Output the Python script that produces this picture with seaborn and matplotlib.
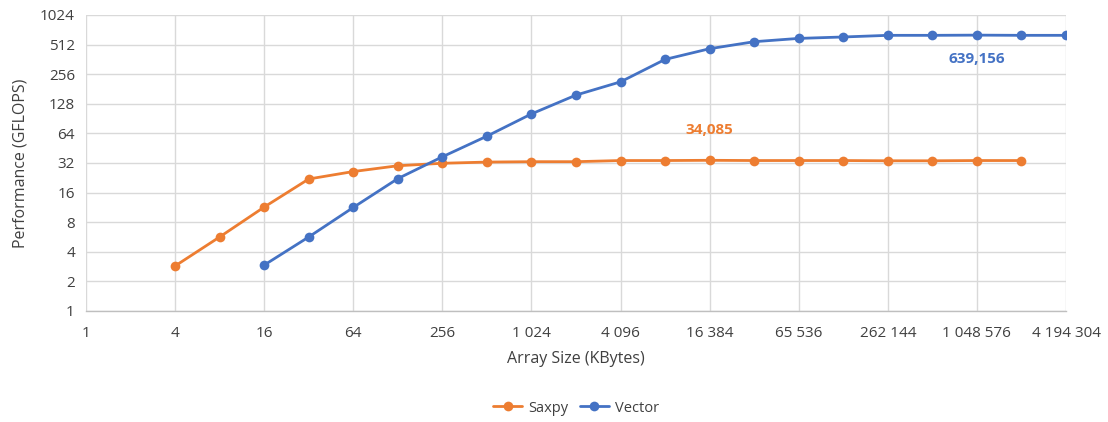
import matplotlib
matplotlib.use("Agg")
import matplotlib.pyplot as plt
import seaborn as sns
import pandas as pd
import numpy as np
from matplotlib.ticker import FixedLocator, FixedFormatter, NullLocator

saxpy_x = [4, 8, 16, 32, 64, 128, 256, 512, 1024, 2048, 4096, 8192, 16384, 32768,
           65536, 131072, 262144, 524288, 1048576, 2097152]
saxpy_y = [2.87, 5.66, 11.4, 22.0, 26.2, 30.0, 31.8, 32.7, 33.0, 33.0, 33.9, 33.9,
           34.085, 33.9, 33.9, 33.9, 33.7, 33.7, 33.9, 33.9]

vector_x = [16, 32, 64, 128, 256, 512, 1024, 2048, 4096, 8192, 16384, 32768,
            65536, 131072, 262144, 524288, 1048576, 2097152, 4194304]
vector_y = [2.93, 5.66, 11.3, 22.2, 37.0, 60.0, 101.0, 157.0, 214.0, 362.0, 465.0,
            548.0, 592.0, 612.0, 636.0, 636.0, 639.156, 636.0, 636.0]

x_ticks = [1, 4, 16, 64, 256, 1024, 4096, 16384, 65536, 262144, 1048576, 4194304]
x_tick_labels = ["1", "4", "16", "64", "256", "1 024", "4 096", "16 384", "65 536",
                 "262 144", "1 048 576", "4 194 304"]
y_ticks = [1, 2, 4, 8, 16, 32, 64, 128, 256, 512, 1024]
y_tick_labels = [str(v) for v in y_ticks]

series_names = ["Saxpy", "Vector"]
colors = ["#ED7D31", "#4472C4"]

df = pd.concat([
    pd.DataFrame({"size": saxpy_x, "perf": saxpy_y, "series": "Saxpy"}),
    pd.DataFrame({"size": vector_x, "perf": vector_y, "series": "Vector"}),
])

sns.set_theme(style="white")
plt.rcParams["font.family"] = ["Open Sans", "DejaVu Sans"]

fig = plt.figure(figsize=(11.08, 4.22), dpi=100)
ax = fig.add_axes([86 / 1108, 1 - 311 / 422, (1066 - 86) / 1108, (311 - 15) / 422])

sns.lineplot(data=df, x="size", y="perf", hue="series", hue_order=series_names,
             palette=colors, marker="o", markersize=7, markeredgewidth=0,
             linewidth=2, ax=ax, legend=True)

ax.set_xscale("log", base=2)
ax.set_yscale("log", base=2)
ax.set_xlim(1, 4194304)
ax.set_ylim(1, 1024)
ax.xaxis.set_major_locator(FixedLocator(x_ticks))
ax.xaxis.set_major_formatter(FixedFormatter(x_tick_labels))
ax.xaxis.set_minor_locator(NullLocator())
ax.yaxis.set_major_locator(FixedLocator(y_ticks))
ax.yaxis.set_major_formatter(FixedFormatter(y_tick_labels))
ax.yaxis.set_minor_locator(NullLocator())

ax.grid(True, color="#D9D9D9", linewidth=1)
ax.set_axisbelow(True)
for s in ["top", "right", "left"]:
    ax.spines[s].set_visible(False)
ax.spines["bottom"].set_color("#BFBFBF")
ax.spines["bottom"].set_linewidth(1)
ax.tick_params(axis="both", length=0, labelsize=11, colors="#404040")
ax.tick_params(axis="x", pad=11)
ax.tick_params(axis="y", pad=8)

ax.set_xlabel("Array Size (KBytes)", fontsize=11.5, color="#404040", labelpad=7)
ax.set_ylabel("Performance (GFLOPS)", fontsize=11.5, color="#404040", labelpad=8)

ax.annotate("34,085", xy=(16384, 34.085), xytext=(0, 22), textcoords="offset points",
            ha="center", va="center", color="#ED7D31", fontsize=11, fontweight="bold")
ax.annotate("639,156", xy=(1048576, 639.156), xytext=(0, -17), textcoords="offset points",
            ha="center", va="center", color="#4472C4", fontsize=11, fontweight="bold")

handles, labels = ax.get_legend_handles_labels()
ax.legend(handles, labels, loc="center", bbox_to_anchor=(0.5, (408 - 311) / -296.0),
          ncol=2, frameon=False, fontsize=10.5, handlelength=2.0, columnspacing=0.8,
          handletextpad=0.4, labelcolor="#404040")

fig.savefig("out.png", dpi=100)
